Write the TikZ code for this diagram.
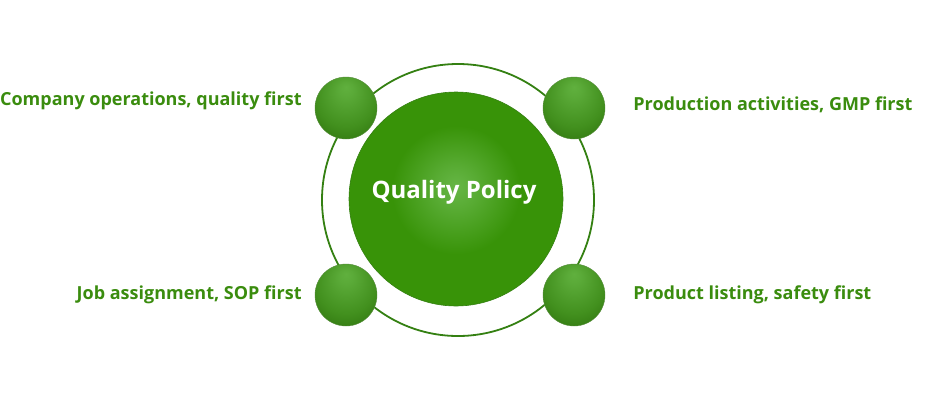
\documentclass[tikz,border=0pt]{standalone}
\usepackage{fontspec}
\setmainfont{Open Sans}
\definecolor{qgreen}{RGB}{58, 140, 14}
\definecolor{ringgreen}{RGB}{52, 128, 18}
\definecolor{coregreen}{RGB}{56, 147, 8}
\definecolor{corelight}{RGB}{102, 182, 70}
\definecolor{balllight}{RGB}{96, 176, 62}
\definecolor{ballmid}{RGB}{66, 144, 30}
\definecolor{balldark}{RGB}{42, 110, 10}
\usetikzlibrary{positioning}
\pgfdeclareradialshading{coreshade}{\pgfpoint{0bp}{3bp}}{color(0bp)=(corelight); color(5bp)=(corelight!70!coregreen); color(15bp)=(coregreen); color(50bp)=(coregreen)}
\pgfdeclareradialshading{ballshade}{\pgfpoint{0bp}{17bp}}{color(0bp)=(balllight); color(6bp)=(balllight!80!ballmid); color(24bp)=(ballmid); color(40bp)=(balldark); color(50bp)=(balldark)}

\begin{document}
\begin{tikzpicture}[x=1pt, y=-1pt,
  ball/.style={circle, minimum size=62pt, inner sep=0pt, shading=ballshade, draw=balldark!80, line width=0.4pt},
  label/.style={text=qgreen, font=\fontsize{18}{21}\selectfont\bfseries, inner sep=0pt}]
  \useasboundingbox (0,0) rectangle (950,400);

  % Outer ring
  \node[circle, draw=ringgreen, line width=1.8pt, minimum size=272pt, inner sep=0pt] (ring) at (458,200) {};

  % Core
  \node[circle, minimum size=214pt, inner sep=0pt, shading=coreshade, draw=ringgreen, line width=0.6pt] (core) at (456,199) {};
  \node[text=white, font=\fontsize{24}{28}\selectfont\bfseries, inner sep=0pt, xshift=-2pt, yshift=7pt] (title) at (core) {Quality Policy};

  % Corner balls
  \node[ball] (tlball) at (346,108) {};
  \node[ball] (trball) at (574,108) {};
  \node[ball] (blball) at (346,295) {};
  \node[ball] (brball) at (574,295) {};

  % Labels
  \node[label, left=13pt of tlball, yshift=7pt] (tllabel) {Company operations, quality first};
  \node[label, right=28pt of trball, yshift=3pt] (trlabel) {Production activities, GMP first};
  \node[label, left=13pt of blball] (bllabel) {Job assignment, SOP first};
  \node[label, right=28pt of brball] (brlabel) {Product listing, safety first};
\end{tikzpicture}
\end{document}
